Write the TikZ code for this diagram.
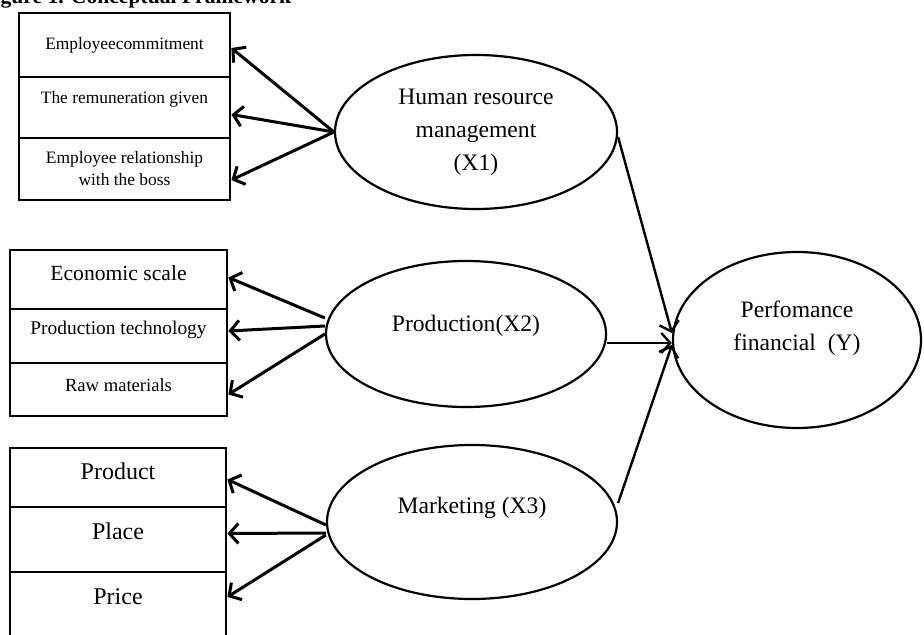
\documentclass[tikz,border=0pt]{standalone}
\usepackage{fontspec}
\setmainfont{Liberation Serif}
\usetikzlibrary{shapes.geometric}
\usetikzlibrary{arrows.meta}

\newcommand{\lift}[2]{\raisebox{#1}[\height][\depth]{#2}}

\begin{document}
\begin{tikzpicture}[x=0.5pt,y=-0.5pt,>={Straight Barb[length=4.5pt,width=10pt]},
        itembox/.style={draw,line width=1.4pt,rectangle,inner sep=0pt,align=center},
        construct/.style={draw,line width=1.1pt,ellipse,inner sep=0pt,align=center,font=\fontsize{11.8}{16.5}\selectfont},
        indarrow/.style={->,line width=1.5pt},
        patharrow/.style={->,line width=1.2pt}]
        \useasboundingbox (0,0) rectangle (924,635);

        % Title (cut off at the top)
        \node[anchor=base west,inner sep=0pt,font=\bfseries\fontsize{10.8}{13}\selectfont] (title) at (-19,4) {Figure 1. Conceptual Framework};

        % HRM indicators
        \node[itembox,minimum width=105.5pt,minimum height=32pt,font=\fontsize{8.7}{11}\selectfont] (commit) at (124.5,45) {Employeecommitment};
        \node[itembox,minimum width=105.5pt,minimum height=30.5pt,font=\fontsize{8.7}{11}\selectfont] (remun) at (124.5,107.5) {\lift{4pt}{The remuneration given}};
        \node[itembox,minimum width=105.5pt,minimum height=31pt,font=\fontsize{8.7}{11}\selectfont] (boss) at (124.5,169) {Employee relationship\\with the boss};

        % Production indicators
        \node[itembox,minimum width=108.5pt,minimum height=29.5pt,font=\fontsize{10.8}{13}\selectfont] (econ) at (118.5,279.5) {\lift{3pt}{Economic scale}};
        \node[itembox,minimum width=108.5pt,minimum height=27pt,font=\fontsize{9.7}{12}\selectfont] (tech) at (118.5,336) {\lift{3pt}{Production technology}};
        \node[itembox,minimum width=108.5pt,minimum height=26.5pt,font=\fontsize{9.3}{12}\selectfont] (raw) at (118.5,389.5) {\lift{2pt}{Raw materials}};

        % Marketing indicators
        \node[itembox,minimum width=108pt,minimum height=29.5pt,font=\fontsize{12}{14}\selectfont] (product) at (118,477.5) {\lift{3pt}{Product}};
        \node[itembox,minimum width=108pt,minimum height=32.5pt,font=\fontsize{12}{14}\selectfont] (place) at (118,539.5) {\lift{4pt}{Place}};
        \node[itembox,minimum width=108pt,minimum height=34pt,font=\fontsize{12}{14}\selectfont] (price) at (118,606) {\lift{4.5pt}{Price}};

        % Constructs
        \node[construct,minimum width=141pt,minimum height=77pt] (hrm) at (476,132) {Human resource\\management\\(X1)};
        \node[construct,minimum width=140pt,minimum height=73pt] (prod) at (466,334) {\lift{4pt}{Production(X2)}};
        \node[construct,minimum width=145pt,minimum height=77pt] (mkt) at (472,522) {\lift{7pt}{Marketing (X3)}};
        \node[construct,minimum width=124pt,minimum height=88pt] (perf) at (797,340) {\lift{6.5pt}{\begin{tabular}{@{}c@{}}Perfomance\\financial\ \ (Y)\end{tabular}}};

        % HRM -> indicators
        \draw[indarrow] (hrm.west) -- ([yshift=-1.5pt]commit.east);
        \draw[indarrow] (hrm.west) -- ([yshift=-3.5pt]remun.east);
        \draw[indarrow] (hrm.west) -- ([yshift=-5.5pt]boss.east);

        % Production -> indicators
        \draw[indarrow] ([yshift=8pt]prod.west) -- ([yshift=1pt]econ.east);
        \draw[indarrow] ([yshift=4pt]prod.west) -- ([yshift=2.5pt]tech.east);
        \draw[indarrow] (prod.west) -- ([yshift=-2.5pt]raw.east);

        % Marketing -> indicators
        \draw[indarrow] ([yshift=-1.5pt]mkt.west) -- ([yshift=-1pt]product.east);
        \draw[indarrow] ([yshift=-5.5pt]mkt.west) -- ([yshift=3pt]place.east);
        \draw[indarrow] ([yshift=-6.5pt]mkt.west) -- ([yshift=4.5pt]price.east);

        % Paths to performance
        \draw[patharrow] ([yshift=-2.5pt]hrm.east) -- ([yshift=3.5pt]perf.west);
        \draw[patharrow] ([yshift=-4.5pt]prod.east) -- ([yshift=-1.5pt]perf.west);
        \draw[patharrow] ([yshift=9.5pt]mkt.east) -- ([yshift=-2.5pt]perf.west);
\end{tikzpicture}
\end{document}
